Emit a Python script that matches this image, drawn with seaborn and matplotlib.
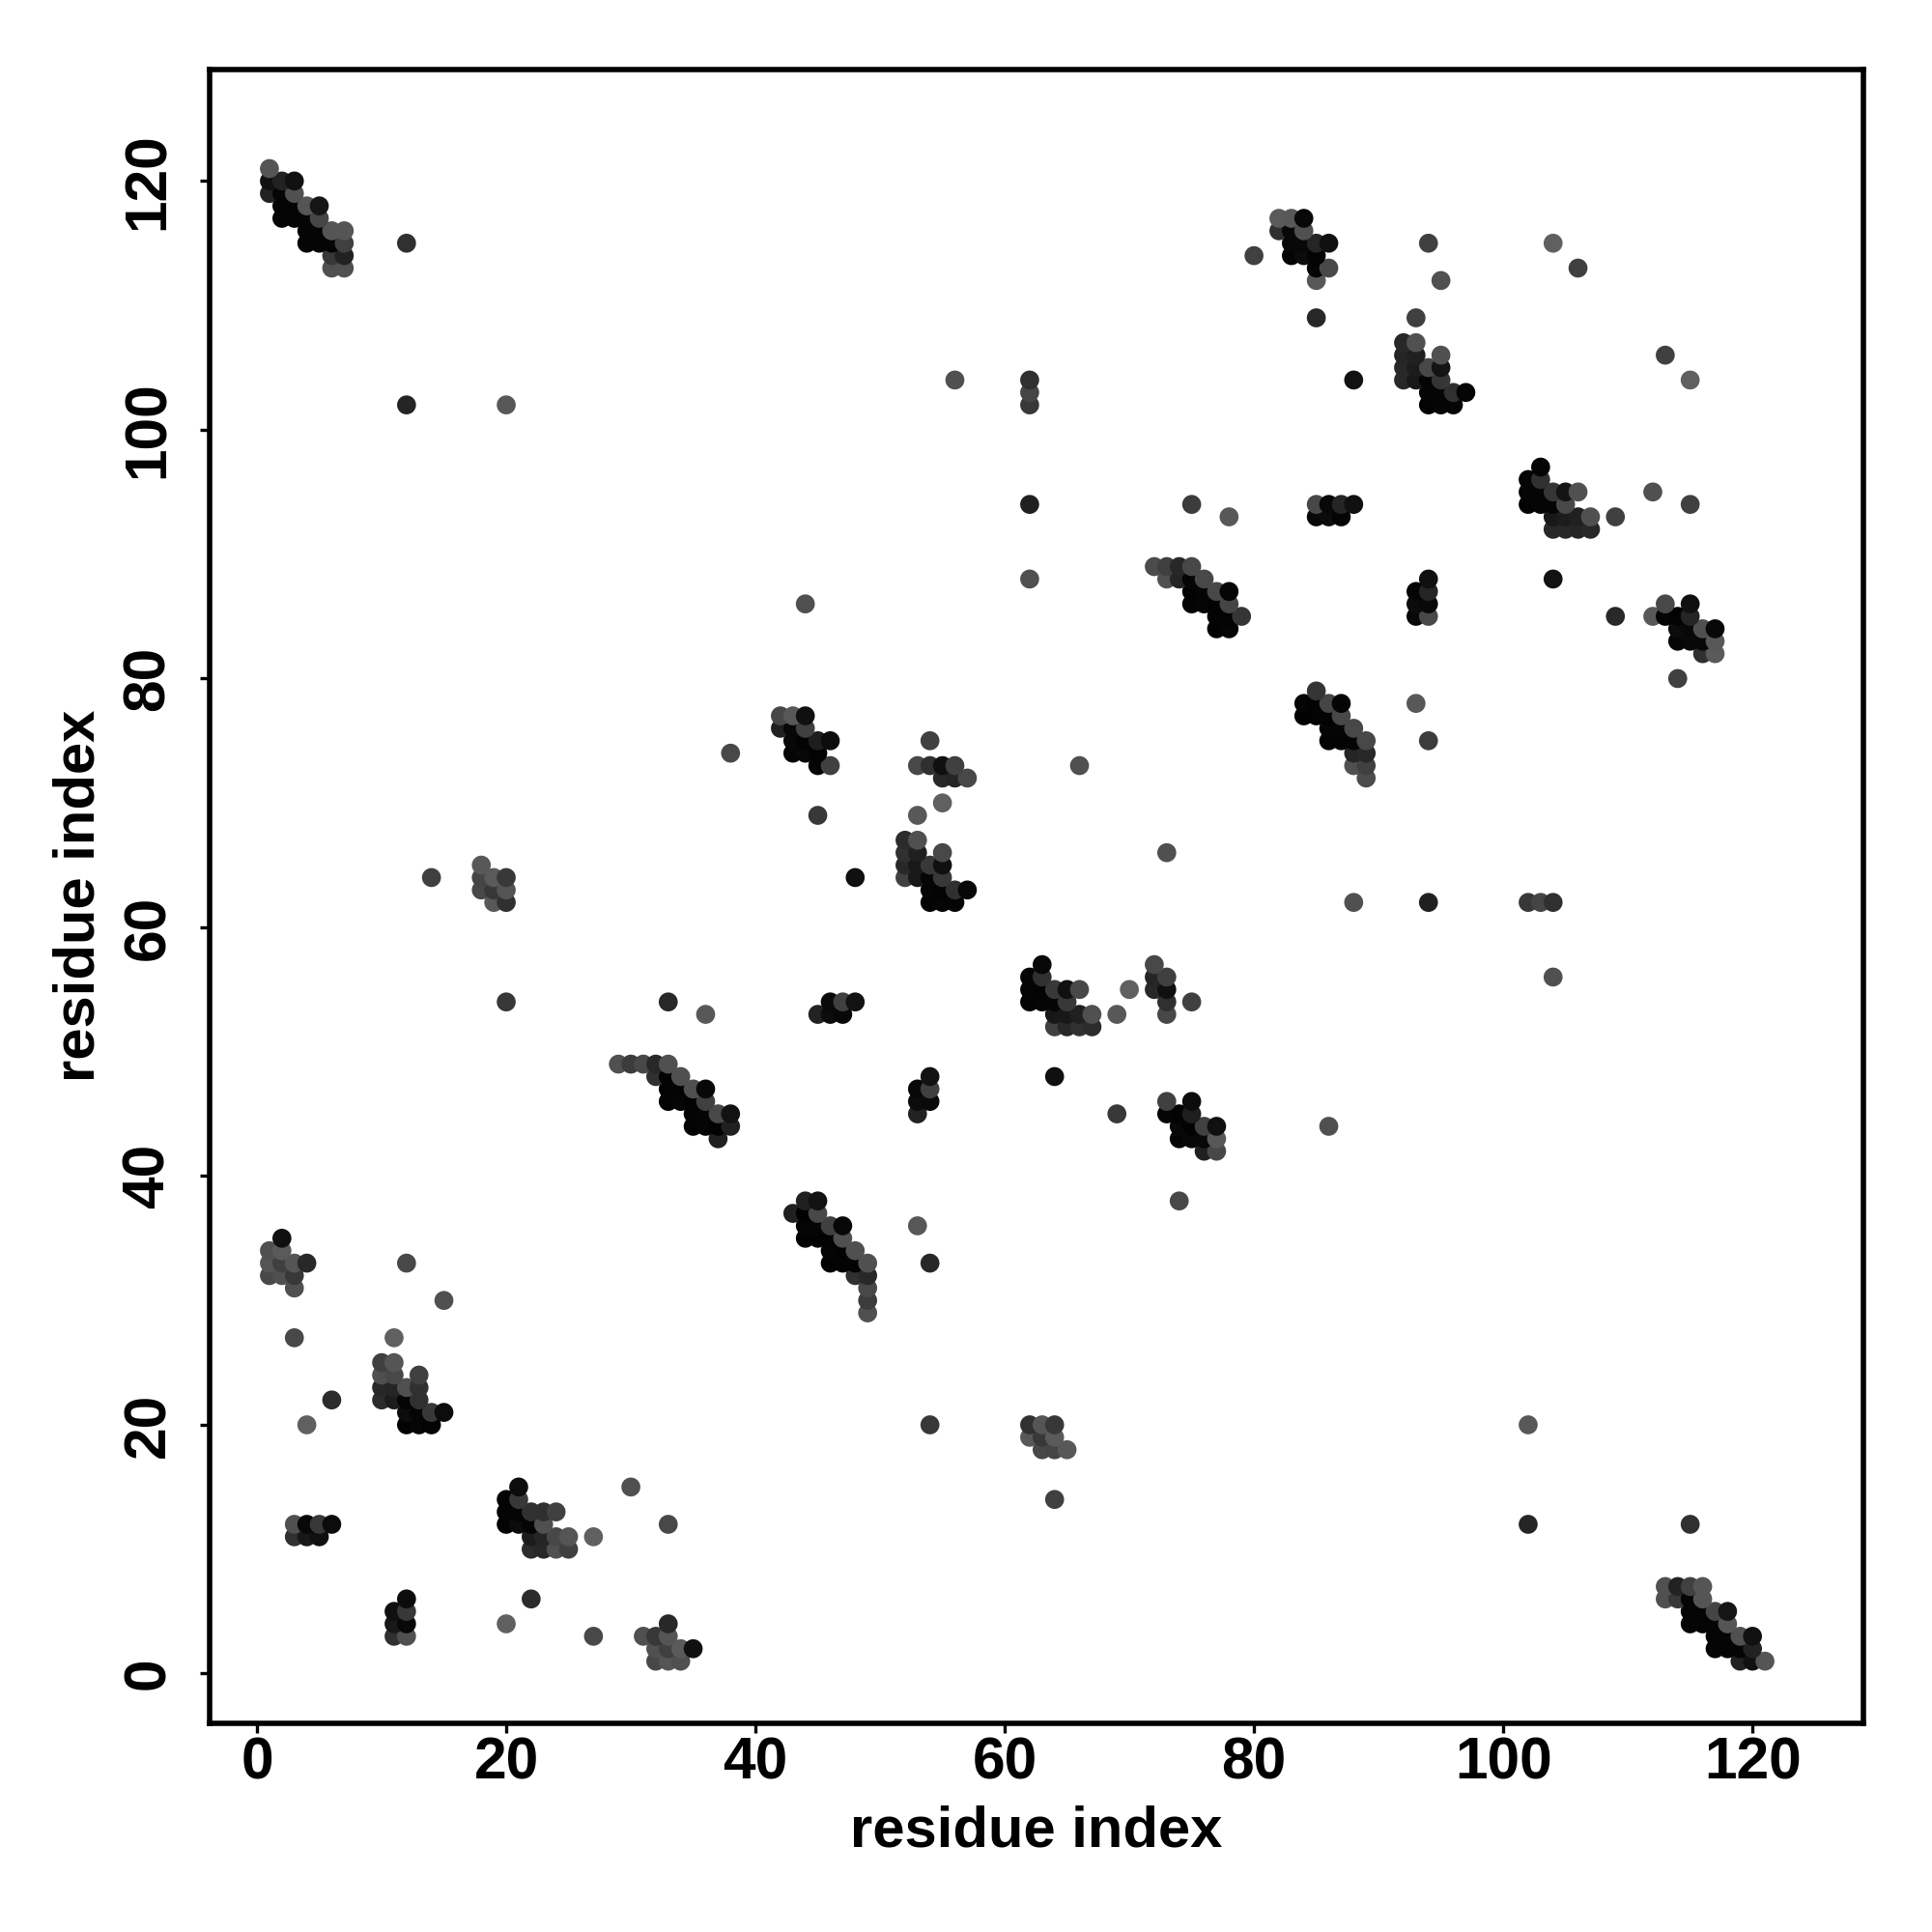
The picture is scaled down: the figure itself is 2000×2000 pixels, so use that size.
import matplotlib
matplotlib.use("Agg")
import matplotlib.pyplot as plt
import numpy as np
import pandas as pd
import seaborn as sns

# Upper triangle of a symmetric contact map: (residue_i, residue_j, grey level)
residue_i = [
 1,1,2,3,1,2,3,2,3,4,5,2,3,4,5,4,5,6,7,4,5,6,7,6,7,6,7,12,12,20,
 56,62,62,62,62,75,78,85,86,87,88,85,86,87,88,
 82,83,84,82,83,84,83,84,85,86,83,84,85,85,86,85,85,80,
 94,95,93,104,106,
 92,93,92,93,95,92,93,94,95,92,93,94,95,94,95,96,97,94,95,96,
 14,18,18,19,20,18,19,20,19,20,
 44,38,42,43,44,42,43,44,43,44,45,46,43,44,45,45,46,45,
 54,53,54,55,56,55,56,57,55,53,48,
 52,53,52,53,55,52,53,54,55,52,53,54,55,54,55,56,57,54,55,56,
 62,72,73,74,75,73,74,75,76,75,76,77,78,75,76,77,78,77,78,79,77,78,66,
 20,29,30,31,32,33,2,1,2,1,2,3,4,1,2,3,3,12,15,
 33,36,45,46,47,46,47,48,
 32,33,34,33,34,35,36,33,34,35,36,35,36,37,38,35,36,37,38,37,
 3,11,6,4,10,11,10,11,13,10,11,12,13,10,11,12,13,12,13,14,15,12,13,14,
 3,4,5,6,3,4,5,
]
residue_j = [
 121,120,120,120,119,119,119,118,118,118,118,117,117,117,117,116,116,116,116,115,115,115,115,114,114,113,113,115,102,102,
 104,104,103,102,94,94,93,94,94,94,94,93,93,93,104,
 117,117,117,116,116,116,115,115,115,115,114,114,114,113,113,112,109,114,
 115,112,109,115,113,
 107,107,106,106,106,105,105,105,105,104,104,104,104,103,103,103,103,102,102,102,
 64,65,64,64,64,63,63,63,62,62,
 86,74,77,77,77,76,76,76,75,75,75,75,74,74,74,73,73,69,
 75,73,73,73,73,72,72,72,70,69,64,
 67,67,66,66,66,65,65,65,65,64,64,64,64,63,63,63,63,62,62,62,
 88,89,89,89,89,88,88,88,88,87,87,87,87,86,86,86,86,85,85,85,84,84,73,
 54,49,49,49,49,49,35,34,34,33,33,33,33,32,32,32,31,33,30,
 54,53,53,53,53,54,54,54,
 48,48,48,47,47,47,47,46,46,46,46,45,45,45,45,44,44,44,44,43,
 27,27,22,20,25,25,24,24,24,23,23,23,23,22,22,22,22,21,21,21,21,20,20,20,
 12,12,12,12,11,11,11,
]
grey_level = [
 0x55,0x11,0x22,0x11,0x22,0x05,0x50,0x05,0x05,0x55,0x15,0x05,0x05,0x05,0x45,0x05,0x05,0x55,0x55,0x05,0x05,0x05,0x40,0x38,0x22,0x50,0x50,0x30,0x25,0x58,
 0x50,0x30,0x45,0x38,0x20,0x3c,0x58,0x48,0x08,0x25,0x10,0x08,0x0c,0x05,0x12,
 0x5a,0x58,0x08,0x30,0x08,0x50,0x08,0x08,0x25,0x10,0x05,0x0c,0x03,0x05,0x48,0x58,0x28,0x40,
 0x40,0x50,0x40,0x60,0x40,
 0x28,0x50,0x25,0x20,0x50,0x28,0x1c,0x48,0x14,0x28,0x18,0x05,0x35,0x05,0x05,0x30,0x05,0x03,0x05,0x05,
 0x40,0x58,0x45,0x5a,0x38,0x48,0x38,0x55,0x58,0x30,
 0x50,0x48,0x48,0x58,0x10,0x20,0x08,0x40,0x08,0x03,0x1e,0x0c,0x05,0x08,0x03,0x05,0x40,0x38,
 0x40,0x48,0x30,0x10,0x40,0x28,0x25,0x48,0x60,0x58,0x10,
 0x2c,0x50,0x30,0x20,0x48,0x28,0x18,0x38,0x10,0x40,0x18,0x05,0x38,0x05,0x03,0x30,0x08,0x03,0x05,0x05,
 0x50,0x4c,0x40,0x28,0x48,0x50,0x25,0x05,0x48,0x03,0x05,0x48,0x05,0x03,0x05,0x03,0x45,0x03,0x03,0x35,0x02,0x05,0x50,
 0x38,0x50,0x3c,0x48,0x28,0x50,0x10,0x50,0x5a,0x55,0x40,0x55,0x28,0x48,0x50,0x38,0x50,0x48,0x50,
 0x28,0x58,0x22,0x0c,0x08,0x0a,0x40,0x12,
 0x30,0x03,0x50,0x03,0x03,0x50,0x08,0x03,0x05,0x03,0x40,0x03,0x05,0x48,0x12,0x03,0x05,0x02,0x20,0x20,
 0x48,0x60,0x2c,0x60,0x40,0x55,0x50,0x48,0x40,0x28,0x25,0x50,0x30,0x2c,0x1c,0x05,0x30,0x0c,0x05,0x38,0x0c,0x03,0x05,0x03,
 0x50,0x08,0x38,0x0c,0x30,0x18,0x10,
]
x_ticks = [0, 20, 40, 60, 80, 100, 120]
y_ticks = [0, 20, 40, 60, 80, 100, 120]
axis_title = "residue index"

assert len(residue_i) == len(residue_j) == len(grey_level)

sns.set_theme(style="white")
plt.rcParams["font.family"] = ["Liberation Sans", "DejaVu Sans"]
plt.rcParams["font.weight"] = "bold"

upper = pd.DataFrame({"i": residue_i, "j": residue_j, "g": grey_level})
lower = upper.rename(columns={"i": "j", "j": "i"})
df = pd.concat([upper, lower], ignore_index=True).drop_duplicates(["i", "j"])
df = df.sort_values(["j", "i"]).reset_index(drop=True)
df["colour"] = ["#{0:02x}{0:02x}{0:02x}".format(int(g)) for g in df["g"]]

fig = plt.figure(figsize=(10, 10), dpi=200, facecolor="white")
ax = fig.add_axes([217 / 2000, 1 - 1784 / 2000, (1929 - 217) / 2000, (1784 - 71.5) / 2000])
sns.scatterplot(data=df, x="i", y="j", hue="colour",
                palette={c: c for c in df["colour"].unique()},
                s=50, linewidth=0, legend=False, ax=ax, zorder=3)
ax.set_xlim(-3.8, 128.9)
ax.set_ylim(-4.0, 129.0)
ax.set_xticks(x_ticks)
ax.set_yticks(y_ticks)
ax.tick_params(axis="both", length=3.5, width=1.2, color="black",
               labelsize=21.8, labelcolor="black", bottom=True, left=True)
ax.tick_params(axis="x", pad=1.2)
ax.tick_params(axis="y", pad=8.7)
for t in ax.get_xticklabels():
    t.set_fontweight("bold")
for t in ax.get_yticklabels():
    t.set_fontweight("bold")
    t.set_rotation(90)
    t.set_va("center")
ax.set_xlabel(axis_title, fontsize=21.5, fontweight="bold", color="black")
ax.set_ylabel(axis_title, fontsize=21.5, fontweight="bold", color="black")
ax.xaxis.set_label_coords(0.5, -0.0495)
ax.yaxis.set_label_coords(-0.063, 0.5)
for sp in ax.spines.values():
    sp.set_visible(True)
    sp.set_color("black")
    sp.set_linewidth(2.0)
ax.grid(False)
fig.savefig("out.png", dpi=200, facecolor="white")
